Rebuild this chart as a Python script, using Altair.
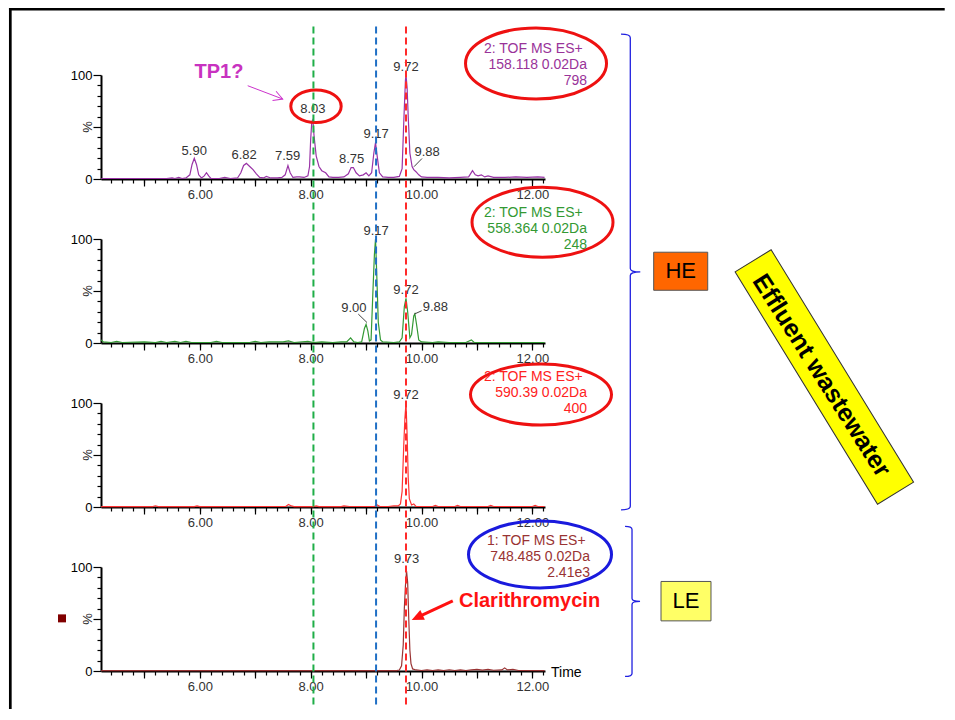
import altair as alt
import pandas as pd

FONT = "Liberation Sans"
X_DOMAIN = [4.217, 12.228]
Y_DOMAIN = [0, 100]

# ---------------- chromatogram traces: (retention time min, relative intensity %) ----------------
P1_POINTS = [(4.22, 0.5), (5.40, 0.5), (5.50, 1.0), (5.55, 0.5), (5.62, 1.5), (5.68, 0.5), (5.75, 1.0),
             (5.82, 4), (5.86, 14), (5.90, 20), (5.94, 14), (5.98, 4), (6.03, 1), (6.08, 3), (6.12, 6),
             (6.16, 3), (6.20, 0.5), (6.35, 0.5), (6.45, 1.5), (6.55, 0.5), (6.68, 1), (6.74, 6),
             (6.79, 13), (6.84, 15), (6.90, 12), (6.96, 9), (7.02, 5), (7.08, 1.5), (7.15, 1), (7.20, 2.5),
             (7.28, 1), (7.40, 1), (7.48, 1.5), (7.54, 4), (7.59, 13), (7.63, 6), (7.68, 1.5), (7.75, 2),
             (7.80, 2), (7.88, 1.5), (7.95, 3), (7.98, 12), (8.00, 38), (8.02, 55), (8.04, 57), (8.06, 42),
             (8.10, 22), (8.15, 12), (8.20, 8), (8.27, 6), (8.33, 2), (8.40, 1.5), (8.50, 1.5), (8.60, 2),
             (8.68, 5), (8.73, 11), (8.77, 11), (8.82, 6), (8.88, 3), (8.95, 4), (9.00, 6), (9.05, 3),
             (9.10, 6), (9.14, 25), (9.17, 35), (9.20, 22), (9.24, 6), (9.30, 2), (9.40, 1.5), (9.50, 1.5),
             (9.60, 2.5), (9.65, 10), (9.68, 55), (9.71, 95), (9.72, 100), (9.74, 88), (9.76, 60),
             (9.79, 25), (9.83, 12), (9.86, 9), (9.90, 7), (9.95, 4), (10.00, 2), (10.10, 1.5),
             (10.30, 1.5), (10.50, 1), (10.70, 1.5), (10.85, 2), (10.92, 8), (10.97, 4), (11.02, 3),
             (11.08, 4), (11.14, 2), (11.20, 3), (11.30, 1.5), (11.50, 1.5), (11.70, 2), (11.90, 1.5),
             (12.10, 2), (12.22, 1.5)]

P2_POINTS = [(4.22, 3), (4.26, 1), (4.40, 0.5), (4.50, 1.5), (4.60, 0.5), (5.00, 1), (5.20, 0.5),
             (5.30, 1.5), (5.40, 0.5), (5.55, 1.5), (5.65, 0.5), (5.75, 1.5), (5.85, 0.5), (6.20, 0.5),
             (6.30, 1.5), (6.40, 0.5), (6.90, 0.5), (7.00, 1.5), (7.10, 0.5), (7.25, 1), (7.50, 1),
             (7.60, 2), (7.70, 0.5), (7.95, 1.5), (8.05, 0.5), (8.20, 1), (8.40, 0.5), (8.55, 1),
             (8.65, 1), (8.72, 5), (8.78, 1), (8.85, 0.5), (8.92, 1), (8.97, 14), (9.00, 18), (9.03, 12),
             (9.06, 2), (9.09, 3), (9.12, 45), (9.15, 85), (9.17, 100), (9.19, 70), (9.22, 20), (9.26, 3),
             (9.30, 1), (9.50, 0.5), (9.60, 1), (9.65, 5), (9.69, 35), (9.72, 43), (9.75, 30), (9.79, 5),
             (9.82, 8), (9.86, 26), (9.88, 28), (9.91, 18), (9.95, 3), (10.00, 1), (10.20, 0.5),
             (10.30, 1), (10.50, 0.5), (10.80, 0.5), (10.90, 3), (10.95, 0.5), (11.50, 0.5), (12.22, 0.5)]

P3_POINTS = [(4.22, 0.4), (5.15, 0.4), (5.20, 1.2), (5.25, 0.4), (5.90, 0.4), (5.95, 1.0), (6.00, 0.4),
             (7.55, 0.5), (7.60, 2.5), (7.65, 1.0), (7.70, 0.4), (8.05, 0.4), (8.10, 1.0), (8.15, 0.4),
             (8.55, 0.4), (8.60, 1.0), (8.70, 0.5), (9.15, 0.5), (9.20, 2.0), (9.25, 0.5), (9.40, 0.5),
             (9.50, 1.0), (9.58, 1.0), (9.62, 3), (9.65, 15), (9.68, 60), (9.70, 85), (9.72, 100),
             (9.74, 70), (9.76, 28), (9.78, 8), (9.82, 2), (9.86, 3), (9.90, 0.5), (10.20, 0.5),
             (10.25, 1.5), (10.30, 0.5), (10.60, 0.5), (10.65, 1.5), (10.70, 0.5), (11.20, 0.5),
             (11.25, 1.5), (11.30, 0.5), (12.00, 0.5), (12.05, 1.5), (12.10, 0.5), (12.22, 0.5)]

P4_POINTS = [(4.22, 0.3), (9.55, 0.3), (9.60, 1), (9.64, 5), (9.67, 25), (9.69, 60), (9.71, 82),
             (9.73, 96), (9.75, 85), (9.77, 50), (9.79, 20), (9.81, 7), (9.84, 2), (9.90, 1),
             (10.00, 0.5), (10.10, 1), (10.20, 0.5), (10.30, 1), (10.40, 0.5), (10.50, 1.2), (10.60, 0.5),
             (10.70, 1), (10.80, 0.5), (10.90, 1), (11.00, 1.5), (11.10, 0.8), (11.20, 1.5), (11.30, 0.7),
             (11.45, 1), (11.50, 3), (11.55, 1), (11.65, 1.5), (11.75, 0.5), (12.22, 0.3)]

# ---------------- peak labels ----------------
P1_LAB_TXT = ["5.90", "6.82", "7.59", "8.03", "8.75", "9.17", "9.72", "9.88"]
P1_LAB_T = [5.90, 6.80, 7.585, 8.04, 8.74, 9.18, 9.72, 10.10]
P1_LAB_V = [27, 23, 22, 67, 19, 43, 108, 26]
P2_LAB_TXT = ["9.00", "9.17", "9.72", "9.88"]
P2_LAB_T = [8.78, 9.18, 9.72, 10.25]
P2_LAB_V = [33.6, 108, 51, 34.5]
P3_LAB_TXT = ["9.72"]
P3_LAB_T = [9.72]
P3_LAB_V = [108]
P4_LAB_TXT = ["9.73"]
P4_LAB_T = [9.73]
P4_LAB_V = [108]

# ---------------- channel info (ellipses) ----------------
INFO_TXT = [["2: TOF MS ES+", "158.118 0.02Da", "798"],
            ["2: TOF MS ES+", "558.364 0.02Da", "248"],
            ["2: TOF MS ES+", "590.39 0.02Da", "400"],
            ["1: TOF MS ES+", "748.485 0.02Da", "2.41e3"]]
INFO_COLOR = ["#993399", "#339933", "#ff2222", "#993333"]
TRACE_COLOR = ["#9933a6", "#339933", "#ff3333", "#993333"]
INFO_V = [125, 110, 94.5]
INFO_T = [[12.908, 12.986, 12.986], [12.908, 12.986, 12.986],
          [12.908, 12.986, 12.986], [12.96, 13.04, 13.04]]
ELL_T = [12.066, 12.183, 12.156, 12.138]
ELL_V = [111.1, 116.1, 108.1, 112.1]
ELL_RX = [70.5, 70.5, 70.5, 71.5]
ELL_RY = [35.5, 35.0, 30.5, 33.5]
ELL_COLOR = ["#ee1111", "#ee1111", "#ee1111", "#1a1add"]

VLINE_T = [8.05, 9.18, 9.72]
VLINE_COLOR = ["#1fae48", "#1f6fc5", "#ff2a2a"]

XS = alt.Scale(domain=X_DOMAIN, nice=False, zero=False)
YS = alt.Scale(domain=Y_DOMAIN, nice=False, zero=False)


def X(f="t", axis=None):
    return alt.X(f"{f}:Q", scale=XS, axis=axis)


def Y(f="v", axis=None):
    return alt.Y(f"{f}:Q", scale=YS, axis=axis)


x_major = alt.Axis(orient="bottom", values=[5, 6, 7, 8, 9, 10, 11, 12], tickSize=7,
                   labelExpr="datum.value % 2 == 0 ? format(datum.value, '.2f') : ''",
                   labelPadding=2, labelColor="#333333", labelOverlap=False, labelFont=FONT,
                   labelFontSize=13, domainColor="#000000", domainWidth=2, tickColor="#000000",
                   tickWidth=1.2, title=None, grid=False)
x_minor = alt.Axis(orient="bottom", values=[round(4.4 + 0.2 * i, 1) for i in range(40)], tickSize=4,
                   labels=False, domain=False, tickColor="#000000", tickWidth=1.2, title=None, grid=False)
y_major = alt.Axis(orient="left", values=[0, 50, 100], tickSize=8,
                   labelExpr="datum.value == 50 ? '' : format(datum.value, 'd')",
                   labelPadding=1, labelColor="#000000", labelFont=FONT, labelFontSize=13,
                   domainColor="#000000", domainWidth=2, tickColor="#000000", tickWidth=1.2,
                   title=None, grid=False)
y_minor = alt.Axis(orient="left", values=[10, 20, 30, 40, 60, 70, 80, 90], tickSize=4, labels=False,
                   domain=False, tickColor="#000000", tickWidth=1.2, title=None, grid=False)


def ellipse_path(r):
    return f"M-1,0A1,{r:.4f},0,1,0,1,0A1,{r:.4f},0,1,0,-1,0Z"


def text_layer(df, **kw):
    return alt.Chart(df).mark_text(font=FONT, **kw).encode(x=X(), y=Y(), text="txt:N")


def rule_layer(df, **kw):
    return alt.Chart(df).mark_rule(**kw).encode(x=X(), y=Y(), x2=alt.X2("t2:Q"), y2=alt.Y2("v2:Q"))


def rect_layer(df, **kw):
    return alt.Chart(df).mark_rect(**kw).encode(x=X(), y=Y(), x2=alt.X2("t2:Q"), y2=alt.Y2("v2:Q"))


def symbol_layer(df, **kw):
    return alt.Chart(df).mark_point(opacity=1, **kw).encode(
        x=X(), y=Y(), shape=alt.Shape("shape:N", scale=None), size=alt.Size("size:Q", scale=None),
        angle=alt.Angle("angle:Q", scale=None))


def panel(k, points, lab_txt, lab_t, lab_v, extra):
    tr = pd.DataFrame(points, columns=["t", "v"])
    dummy = pd.DataFrame({"t": [8.0], "v": [50.0]})
    minor = alt.Chart(dummy).mark_point(opacity=0).encode(x=X(axis=x_minor), y=Y(axis=y_minor))
    line = alt.Chart(tr).mark_line(color=TRACE_COLOR[k], strokeWidth=1.2).encode(
        x=X(axis=x_major), y=Y(axis=y_major))
    labels = text_layer(pd.DataFrame({"t": lab_t, "v": lab_v, "txt": lab_txt}),
                        fontSize=13, color="#333333", baseline="middle", align="center")
    pct = text_layer(pd.DataFrame({"t": [3.976], "v": [50], "txt": ["%"]}),
                     fontSize=13, color="#222222", angle=270, baseline="middle", align="center")
    info = text_layer(pd.DataFrame({"t": INFO_T[k], "v": INFO_V, "txt": INFO_TXT[k]}),
                      fontSize=14, color=INFO_COLOR[k], align="right", baseline="middle")
    ell = symbol_layer(pd.DataFrame({"t": [ELL_T[k]], "v": [ELL_V[k]],
                                     "shape": [ellipse_path(ELL_RY[k] / ELL_RX[k])],
                                     "size": [(2 * ELL_RX[k]) ** 2], "angle": [0]}),
                       filled=False, stroke=ELL_COLOR[k], strokeWidth=3)
    layers = [minor, line, labels, pct, ell, info] + extra
    return alt.layer(*layers).resolve_axis(x="independent", y="independent").properties(
        width=444, height=104)


# ---------------- panel 1 extras ----------------
p1_extra = [
    # page frame (top and left edges), drawn as filled bands
    rect_layer(pd.DataFrame({"t": [2.5565, 2.5565], "v": [164.4, 164.4], "t2": [2.6052, 19.44],
                             "v2": [-509.6, 162.0]}), color="#000000"),
    # leader line 9.88
    rule_layer(pd.DataFrame({"t": [9.864], "v": [11.8], "t2": [10.009], "v2": [19.7]}),
               color="#444444", strokeWidth=1),
    # TP1? arrow
    rule_layer(pd.DataFrame({"t": [6.864], "v": [89.7], "t2": [7.4955], "v2": [76.9]}),
               color="#cc33cc", strokeWidth=1),
    symbol_layer(pd.DataFrame({"t": [7.4955], "v": [76.9], "shape": ["M-1,-0.55L0,0L-1,0.55"],
                               "size": [324], "angle": [20.8]}),
                 filled=False, stroke="#cc33cc", strokeWidth=1),
    text_layer(pd.DataFrame({"t": [6.346], "v": [103.2], "txt": ["TP1?"]}),
               fontSize=20, fontWeight="bold", color="#c832c0", align="center", baseline="middle"),
    # ellipse around 8.03
    symbol_layer(pd.DataFrame({"t": [8.096], "v": [70.0], "shape": [ellipse_path(16.3 / 25.2)],
                               "size": [(2 * 25.2) ** 2], "angle": [0]}),
                 filled=False, stroke="#ee1111", strokeWidth=3),
]

# ---------------- panel 2 extras ----------------
HE_PATH = ("M-0.039,-1 Q0,-1 0,-0.985 L0,-0.015 Q0,0 0.042,0 Q0,0 0,0.015 "
           "L0,0.985 Q0,1 -0.039,1")
p2_extra = [
    rule_layer(pd.DataFrame({"t": [8.859, 9.87], "v": [27.8, 27.8], "t2": [9.016, 10.003],
                             "v2": [19.7, 31.0]}), color="#444444", strokeWidth=1),
    symbol_layer(pd.DataFrame({"t": [13.767], "v": [68.3], "shape": [HE_PATH],
                               "size": [475.7 ** 2], "angle": [0]}),
                 filled=False, stroke="#2020e0", strokeWidth=1.3),
    alt.Chart(pd.DataFrame({"t": [14.189], "t2": [15.164], "v": [87.3], "v2": [50.7]})).mark_rect(
        color="#ff6600", stroke="#555555", strokeWidth=1).encode(
        x=X(), x2=alt.X2("t2:Q"), y=Y(), y2=alt.Y2("v2:Q")),
    text_layer(pd.DataFrame({"t": [14.676], "v": [68.9], "txt": ["HE"]}),
               fontSize=22, color="#000000", align="center", baseline="middle"),
]

# ---------------- panel 3 extras ----------------
p3_extra = [
    symbol_layer(pd.DataFrame({"t": [17.268], "v": [125.0],
                               "shape": ["M-1,-0.155L1,-0.155L1,0.155L-1,0.155Z"],
                               "size": [272.6 ** 2], "angle": [58.5]}),
                 filled=True, fill="#ffff00", stroke="#333333", strokeWidth=1),
    text_layer(pd.DataFrame({"t": [17.22], "v": [126.5], "txt": ["Effluent wastewater"]}),
               fontSize=25, fontWeight="bold", color="#000000", angle=57.5, align="center",
               baseline="middle"),
]

# ---------------- panel 4 extras ----------------
LE_PATH = ("M-0.093,-1 Q0,-1 0,-0.96 L0,-0.04 Q0,0 0.107,0 Q0,0 0,0.04 "
           "L0,0.96 Q0,1 -0.093,1")
p4_extra = [
    text_layer(pd.DataFrame({"t": [12.336], "v": [-2], "txt": ["Time"]}),
               fontSize=14, color="#000000", align="left", baseline="middle"),
    alt.Chart(pd.DataFrame({"t": [3.513], "v": [50.6]})).mark_square(
        size=64, color="#800000", opacity=1).encode(x=X(), y=Y()),
    rule_layer(pd.DataFrame({"t": [9.904], "v": [51.0], "t2": [10.564], "v2": [67.5]}),
               color="#ff1111", strokeWidth=3),
    symbol_layer(pd.DataFrame({"t": [9.823], "v": [49.0], "shape": ["M0,0L-1,-0.45L-1,0.45Z"],
                               "size": [576], "angle": [155]}),
                 filled=True, fill="#ff1111", strokeWidth=0),
    text_layer(pd.DataFrame({"t": [10.676], "v": [67.5], "txt": ["Clarithromycin"]}),
               fontSize=20, fontWeight="bold", color="#ff1111", align="left", baseline="middle"),
    symbol_layer(pd.DataFrame({"t": [13.798], "v": [66.9], "shape": [LE_PATH],
                               "size": [150 ** 2], "angle": [0]}),
                 filled=False, stroke="#2020e0", strokeWidth=1.3),
    alt.Chart(pd.DataFrame({"t": [14.321], "t2": [15.223], "v": [86.1], "v2": [48.2]})).mark_rect(
        color="#ffff66", stroke="#555555", strokeWidth=1).encode(
        x=X(), x2=alt.X2("t2:Q"), y=Y(), y2=alt.Y2("v2:Q")),
    text_layer(pd.DataFrame({"t": [14.772], "v": [67.1], "txt": ["LE"]}),
               fontSize=22, color="#000000", align="center", baseline="middle"),
    # dashed retention-time markers across all panels
    alt.Chart(pd.DataFrame({"t": VLINE_T, "t2": VLINE_T, "v": [619.8] * 3, "v2": [-34.0] * 3,
                            "c": VLINE_COLOR})).mark_rule(strokeWidth=2, strokeDash=[7, 4]).encode(
        x=X(), y=Y(), x2=alt.X2("t2:Q"), y2=alt.Y2("v2:Q"), color=alt.Color("c:N", scale=None)),
]

p1 = panel(0, P1_POINTS, P1_LAB_TXT, P1_LAB_T, P1_LAB_V, p1_extra)
p2 = panel(1, P2_POINTS, P2_LAB_TXT, P2_LAB_T, P2_LAB_V, p2_extra)
p3 = panel(2, P3_POINTS, P3_LAB_TXT, P3_LAB_T, P3_LAB_V, p3_extra)
p4 = panel(3, P4_POINTS, P4_LAB_TXT, P4_LAB_T, P4_LAB_V, p4_extra)

chart = alt.vconcat(p1, p2, p3, p4, spacing=60).properties(
    bounds="flush", padding=0, autosize=alt.AutoSizeParams(type="pad")
).configure(font=FONT).configure_view(stroke=None)

chart.save("out.html", embed_options={"renderer": "svg", "actions": False})
